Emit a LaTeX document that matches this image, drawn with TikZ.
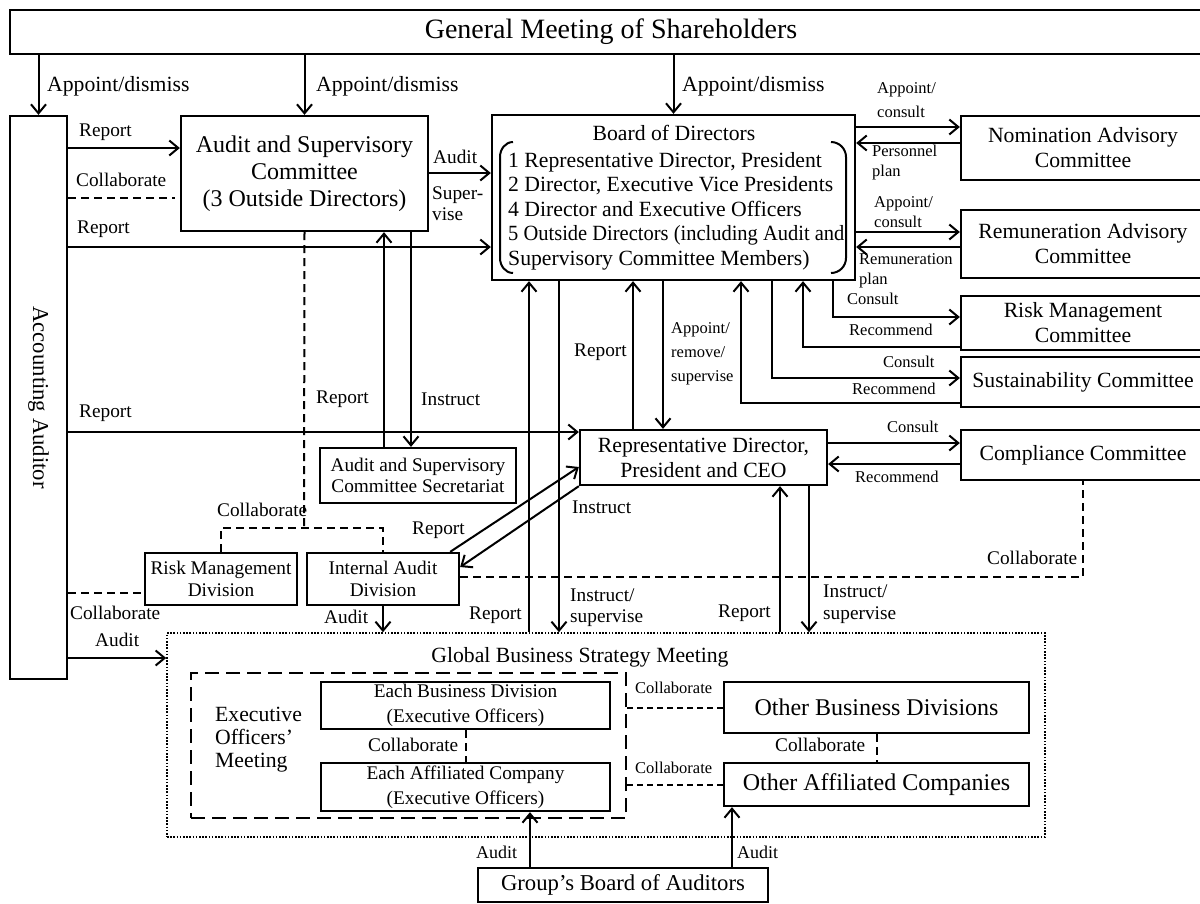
\documentclass[tikz,border=0pt]{standalone}
\usepackage{fontspec}
\setmainfont{Liberation Serif}
\usetikzlibrary{arrows.meta, fit}

\tikzset{
  box/.style={draw, line width=2.3pt, inner sep=0pt, align=center},
  size/.style 2 args={minimum width=#1pt, minimum height=#2pt},
  arr/.style={line width=2pt, -{Straight Barb[length=9pt,width=15pt]}},
  dsh/.style={line width=2pt, dash pattern=on 8pt off 5pt},
  fdsh/.style={line width=2pt, dash pattern=on 6pt off 4pt},
  lab/.style={inner sep=0pt, align=left, anchor=west},
  txl/.style={font=\fontsize{28}{32}\selectfont},
  tlg/.style={font=\fontsize{24}{27}\selectfont},
  tbx/.style={font=\fontsize{22.7}{25}\selectfont},
  tmd/.style={font=\fontsize{21.7}{25}\selectfont},
  tsm/.style={font=\fontsize{19.3}{21.5}\selectfont},
  txs/.style={font=\fontsize{16.5}{20}\selectfont},
}

\begin{document}
\begin{tikzpicture}[x=1pt,y=-1pt]
        \useasboundingbox (0,0) rectangle (1200,903);
        % boxes
        \node[box, txl, size={1202}{44}] (gms) at (611,32) {General Meeting of Shareholders};
        \node[box, fit={(10,116) (67,679)}] (aa) {};
        \node[tbx, rotate=-90, inner sep=0pt] (aatxt) at (aa.center) {Accounting Auditor};
        \node[box, tlg, size={247}{115}] (asc) at (304.5,173.5) {Audit and Supervisory\\Committee\\(3 Outside Directors)};
        \node[box, fit={(492,115) (855,280)}] (board) {};
        \node[tmd, inner sep=0pt] (boardttl) at (674,133) {Board of Directors};
        \node[inner sep=0pt, align=left, anchor=north west, font=\fontsize{21.7}{24.5}\selectfont] (boardlst) at (508,152)
          {1 Representative Director, President\\2 Director, Executive Vice Presidents\\4 Director and Executive Officers\\\scalebox{0.944}[1]{5 Outside Directors (including Audit and}\\Supervisory Committee Members)};
        \node[box, tmd, size={244}{64}] (nom) at (1083,148) {Nomination Advisory\\Committee};
        \node[box, tmd, size={244}{68}] (rem) at (1083,244) {Remuneration Advisory\\Committee};
        \node[box, tmd, size={244}{54}] (risk) at (1083,323) {Risk Management\\Committee};
        \node[box, tmd, size={244}{50}] (sus) at (1083,382) {Sustainability Committee};
        \node[box, tmd, size={244}{50}] (comp) at (1083,455) {Compliance Committee};
        \node[box, tmd, size={247}{55}] (rep) at (703.5,457.5) {Representative Director,\\President and CEO};
        \node[box, tsm, size={196}{55}] (sec) at (418,475.5) {Audit and Supervisory\\Committee Secretariat};
        \node[box, tsm, size={152}{52}] (rmd) at (221,579) {Risk Management\\Division};
        \node[box, tsm, size={152}{52}] (iad) at (383,579) {Internal Audit\\Division};
        \node[draw, inner sep=0pt, line width=1.6pt, dash pattern=on 1.6pt off 1.6pt, fit={(167,633) (1045,837)}] (gbsm) {};
        \node[tmd, inner sep=0pt] (gbsmttl) at (580,657) {Global Business Strategy Meeting};
        \node[draw, inner sep=0pt, line width=2.4pt, dash pattern=on 14pt off 7pt, fit={(191,673) (626,818)}] (eom) {};
        \node[lab, font=\fontsize{21.7}{23}\selectfont] (eomtxt) at (215,740) {Executive\\Officers’\\Meeting};
        \node[box, tsm, size={289}{47}] (ebd) at (465.5,705.5) {Each Business Division\\[3pt](Executive Officers)};
        \node[box, tsm, size={289}{48}] (eac) at (465.5,787) {Each Affiliated Company\\[3pt](Executive Officers)};
        \node[box, tlg, size={305}{51}] (obd) at (876.5,707.5) {Other Business Divisions};
        \node[box, tlg, size={305}{43}] (oac) at (876.5,784.5) {Other Affiliated Companies};
        \node[box, tbx, size={290}{34}] (gba) at (623,885) {Group’s Board of Auditors};
        % brackets in the board
        \draw[line width=2pt] (513,142) to[out=180,in=90] (500,157) -- (500,258) to[out=-90,in=180] (513,273);
        \draw[line width=2pt] (831,142) to[out=0,in=90] (846,157) -- (846,258) to[out=-90,in=0] (831,273);
        % columns and rows of the connectors
        \coordinate (X1) at (384,0);
        \coordinate (X2) at (411,0);
        \coordinate (X3) at (529,0);
        \coordinate (X4) at (559,0);
        \coordinate (X5) at (633,0);
        \coordinate (X6) at (663,0);
        \coordinate (X7) at (741,0);
        \coordinate (X8) at (772,0);
        \coordinate (X9) at (803,0);
        \coordinate (X10) at (833,0);
        \coordinate (X11) at (780,0);
        \coordinate (X12) at (809,0);
        \coordinate (X13) at (530,0);
        \coordinate (X14) at (732,0);
        \coordinate (Y1) at (0,148);
        \coordinate (Y2) at (0,198);
        \coordinate (Y3) at (0,247);
        \coordinate (Y4) at (0,432);
        \coordinate (Y5) at (0,593);
        \coordinate (Y6) at (0,658);
        \coordinate (Y7) at (0,173);
        \coordinate (Y8) at (0,317);
        \coordinate (Y9) at (0,347);
        \coordinate (Y10) at (0,378);
        \coordinate (Y11) at (0,403);
        \coordinate (Y12) at (0,127);
        \coordinate (Y13) at (0,143);
        \coordinate (Y14) at (0,232);
        \coordinate (Y15) at (0,247);
        \coordinate (Y16) at (0,443);
        \coordinate (Y17) at (0,464);
        \coordinate (J1) at (304,528);
        % general meeting
        \draw[arr] (gms.south -| aa.north) -- (aa.north);
        \draw[arr] (gms.south -| asc.north) -- (asc.north);
        \draw[arr] (gms.south -| board.north) -- (board.north);
        % accounting auditor
        \draw[arr] (aa.east |- Y1) -- (asc.west |- Y1);
        \draw[dsh, shorten >=5pt] (aa.east |- Y2) -- (asc.west |- Y2);
        \draw[arr] (aa.east |- Y3) -- (board.west |- Y3);
        \draw[arr] (aa.east |- Y4) -- (rep.west |- Y4);
        \draw[dsh] (aa.east |- Y5) -- (rmd.west |- Y5);
        \draw[arr] (aa.east |- Y6) -- (gbsm.west |- Y6);
        % audit and supervisory committee
        \draw[arr] (asc.east |- Y7) -- (board.west |- Y7);
        \draw[arr] (sec.north -| X1) -- (asc.south -| X1);
        \draw[arr] (asc.south -| X2) -- (sec.north -| X2);
        \draw[dsh] (asc.south) -- (J1);
        \draw[dsh] (rmd.north) |- (iad.north |- J1) -- (iad.north);
        % internal audit
        \draw[arr] ([xshift=-10pt]iad.north east) -- ([yshift=-9.5pt]rep.west);
        \draw[arr] (rep.south west) -- ([yshift=12pt]iad.east);
        \draw[arr] (iad.south) -- (iad.south |- gbsm.north);
        \draw[dsh] ([yshift=2pt]iad.east) -| (comp.south);
        % board of directors
        \draw[arr] (gbsm.north -| X3) -- (board.south -| X3);
        \draw[arr] (board.south -| X4) -- (gbsm.north -| X4);
        \draw[arr] (rep.north -| X5) -- (board.south -| X5);
        \draw[arr] (board.south -| X6) -- (rep.north -| X6);
        \draw[arr] (board.south -| X10) |- (risk.west |- Y8);
        \draw[arr] (risk.west |- Y9) -| (board.south -| X9);
        \draw[arr] (board.south -| X8) |- (sus.west |- Y10);
        \draw[arr] (sus.west |- Y11) -| (board.south -| X7);
        \draw[arr] (board.east |- Y12) -- (nom.west |- Y12);
        \draw[arr] (nom.west |- Y13) -- (board.east |- Y13);
        \draw[arr] (board.east |- Y14) -- (rem.west |- Y14);
        \draw[arr] (rem.west |- Y15) -- (board.east |- Y15);
        % representative director
        \draw[arr] (rep.east |- Y16) -- (comp.west |- Y16);
        \draw[arr] (comp.west |- Y17) -- (rep.east |- Y17);
        \draw[arr] (gbsm.north -| X11) -- (rep.south -| X11);
        \draw[arr] (rep.south -| X12) -- (gbsm.north -| X12);
        % global business strategy meeting
        \draw[dsh] (ebd.south) -- (eac.north);
        \draw[dsh] (obd.south) -- (oac.north);
        \draw[fdsh] (eom.east |- obd.west) -- (obd.west);
        \draw[fdsh] (eom.east |- oac.west) -- (oac.west);
        \draw[arr] (gba.north -| X13) -- (eac.south -| X13);
        \draw[arr] (gba.north -| X14) -- (oac.south -| X14);
        % labels
        \node[lab, tmd] (lapp1) at (47,86) {Appoint/dismiss};
        \node[lab, tmd] (lapp2) at (316,86) {Appoint/dismiss};
        \node[lab, tmd] (lapp3) at (682,86) {Appoint/dismiss};
        \node[lab, tsm] (lrep1) at (79,132) {Report};
        \node[lab, tsm] (lcol1) at (76,180) {Collaborate};
        \node[lab, tsm] (lrep2) at (77,229) {Report};
        \node[lab, tsm] (laud1) at (433,157) {Audit};
        \node[lab, tsm] (lsup1) at (432,203.5) {Super-\\vise};
        \node[lab, tsm] (lrep3) at (316,399) {Report};
        \node[lab, tsm] (lins1) at (421,399) {Instruct};
        \node[lab, tsm] (lrep4) at (79,413) {Report};
        \node[lab, tsm] (lcol2) at (217,510) {Collaborate};
        \node[lab, tsm] (lcol3) at (70,613) {Collaborate};
        \node[lab, tsm] (lrep5) at (412,530) {Report};
        \node[lab, tsm] (lins2) at (572,507) {Instruct};
        \node[lab, tsm] (laud2) at (324,617) {Audit};
        \node[lab, tsm] (laud3) at (95,640) {Audit};
        \node[lab, tsm] (lcol4) at (987,558) {Collaborate};
        \node[lab, tsm] (lrep6) at (469,615) {Report};
        \node[lab, tsm] (lins3) at (570,607.5) {Instruct/\\supervise};
        \node[lab, tsm] (lrep7) at (574,352) {Report};
        \node[lab, txs] (lapp4) at (671,354) {Appoint/\\[4pt]remove/\\[4pt]supervise};
        \node[lab, txs] (lapp5) at (877,100) {Appoint/\\[4pt]consult};
        \node[lab, txs] (lper1) at (872,163) {Personnel\\plan};
        \node[lab, txs] (lapp6) at (874,212) {Appoint/\\consult};
        \node[lab, txs] (lrem1) at (859,270.5) {Remuneration\\plan};
        \node[lab, txs] (lcon1) at (847,299) {Consult};
        \node[lab, txs] (lrec1) at (849,330) {Recommend};
        \node[lab, txs] (lcon2) at (883,362) {Consult};
        \node[lab, txs] (lrec2) at (852,389) {Recommend};
        \node[lab, txs] (lcon3) at (887,427) {Consult};
        \node[lab, txs] (lrec3) at (855,477) {Recommend};
        \node[lab, tsm] (lrep8) at (718,613) {Report};
        \node[lab, tsm] (lins4) at (823,604) {Instruct/\\supervise};
        \node[lab, tsm] (lcol5) at (368,745) {Collaborate};
        \node[lab, tsm] (lcol6) at (775,745) {Collaborate};
        \node[lab, txs] (lcol7) at (635,688) {Collaborate};
        \node[lab, txs] (lcol8) at (635,768) {Collaborate};
        \node[lab, font=\fontsize{18}{20}\selectfont] (laud4) at (476,852) {Audit};
        \node[lab, font=\fontsize{18}{20}\selectfont] (laud5) at (737,852) {Audit};
    \end{tikzpicture}
\end{document}
